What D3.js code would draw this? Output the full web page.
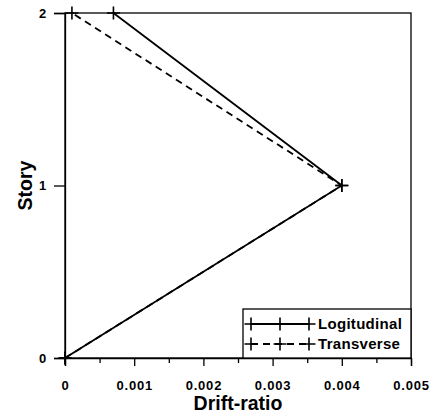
<!DOCTYPE html>
<html lang="en">
<head>
    <meta charset="utf-8">
    <script src="https://cdn.jsdelivr.net/npm/d3@7"></script>
    <style>
        body { margin: 0; background: white; }
        text { font-family: "Liberation Sans", Arial, sans-serif; font-weight: bold; fill: black; }
        .title { font-size: 19.5px; }
        .legend text { font-size: 15px; letter-spacing: 0.3px; }
        .tick text { font-size: 13px; font-weight: bold; letter-spacing: 0.8px; }
    </style>
</head>
<body>
<script>
    // story levels and drift ratios
    let stories = [0, 1, 2];
    let logitudinal = [0, 0.004, 0.0007];
    let transverse = [0, 0.004, 0.0001];
    let xTicks = [0, 0.001, 0.002, 0.003, 0.004, 0.005];
    let xMinor = [0.0005, 0.0015, 0.0025, 0.0035, 0.0045];

    let series = [
        {name: 'Logitudinal', values: logitudinal, dash: null},
        {name: 'Transverse', values: transverse, dash: '7,5'}
    ];

    let margin = {left: 65, top: 13, right: 22, bottom: 58};
    let W = 433, H = 416;
    let w = W - margin.left - margin.right, h = H - margin.top - margin.bottom;

    let svg = d3.select('body').append('svg').attr('width', W).attr('height', H);
    let g = svg.append('g').attr('transform', 'translate(' + margin.left + ',' + margin.top + ')');

    let x = d3.scaleLinear().domain([0, 0.005]).range([0, w]);
    let y = d3.scaleLinear().domain([0, 2]).range([h, 0]);

    // frame
    g.append('rect').attr('width', w).attr('height', h)
        .attr('fill', 'none').attr('stroke', 'black').attr('stroke-width', 1.3);

    g.append('g').attr('transform', 'translate(0,' + h + ')')
        .call(d3.axisBottom(x).tickValues(xTicks).tickSize(8).tickPadding(15)
            .tickFormat(function (d) { return d === 0 ? '0' : d3.format('.3f')(d); }));
    g.append('g').attr('transform', 'translate(0,' + h + ')')
        .call(d3.axisBottom(x).tickValues(xMinor).tickSize(5).tickFormat(''))
        .select('.domain').remove();

    g.append('g')
        .call(d3.axisLeft(y).tickValues(stories).tickSize(11).tickPadding(7).tickFormat(d3.format('d')));

    svg.selectAll('.domain').attr('stroke', 'black').attr('stroke-width', 1.3);
    svg.selectAll('.tick line').attr('stroke', 'black').attr('stroke-width', 1.3);
    svg.selectAll('.tick text').attr('font-size', 13).attr('font-weight', 'bold');

    svg.append('text').attr('class', 'title')
        .attr('x', margin.left + w / 2).attr('y', 410)
        .attr('text-anchor', 'middle').text('Drift-ratio');
    svg.append('text').attr('class', 'title')
        .attr('transform', 'translate(32,' + (margin.top + h / 2) + ') rotate(-90)')
        .attr('text-anchor', 'middle').text('Story');

    let line = d3.line()
        .x(function (d) { return x(d[0]); })
        .y(function (d) { return y(d[1]); });

    function plus(sel, cx, cy) {
        sel.append('path')
            .attr('d', 'M' + (cx - 6.5) + ',' + cy + 'h13M' + cx + ',' + (cy - 6.5) + 'v13')
            .attr('stroke', 'black').attr('stroke-width', 1.6);
    }

    series.forEach(function (s) {
        let pts = s.values.map(function (v, i) { return [v, stories[i]]; });
        g.append('path').datum(pts).attr('d', line)
            .attr('fill', 'none').attr('stroke', 'black').attr('stroke-width', 1.8)
            .attr('stroke-dasharray', s.dash);
        pts.forEach(function (p) { plus(g, x(p[0]), y(p[1])); });
    });

    // legend
    let lg = g.append('g').attr('class', 'legend');
    let lx = w - 168;
    lg.append('rect').attr('x', lx).attr('y', h - 49).attr('width', w - lx).attr('height', 49)
        .attr('fill', 'white').attr('stroke', 'black').attr('stroke-width', 1.3);
    series.forEach(function (s, i) {
        let ly = h - 34 + i * 20;
        lg.append('line').attr('x1', lx + 8).attr('x2', lx + 66).attr('y1', ly).attr('y2', ly)
            .attr('stroke', 'black').attr('stroke-width', 1.8).attr('stroke-dasharray', s.dash);
        [8, 37, 66].forEach(function (o) { plus(lg, lx + o, ly); });
        lg.append('text').attr('x', lx + 75).attr('y', ly).attr('dy', '0.36em').text(s.name);
    });
</script>
</body>
</html>
